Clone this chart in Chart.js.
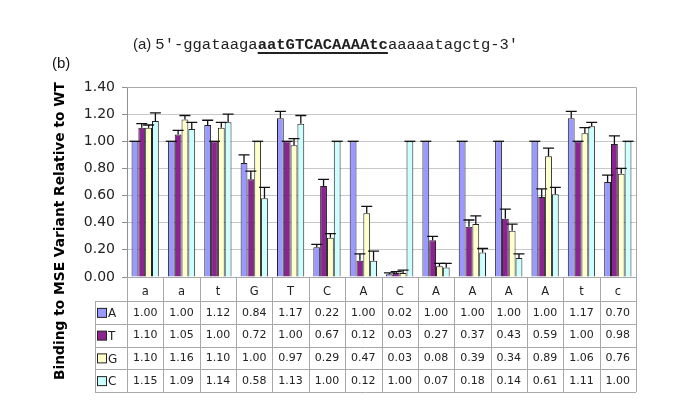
<!DOCTYPE html>
<html>
<head>
<meta charset="utf-8">
<script src="https://cdn.jsdelivr.net/npm/chart.js@4.4.1/dist/chart.umd.min.js"></script>
<style>
  body { margin: 0; background: #fff; }
  #wrap { position: relative; width: 685px; height: 403px; }
  #seq { position: absolute; left: 133px; top: 35px; white-space: nowrap; color: #222; }
  #seq .lbl { font-family: "Liberation Sans", Arial, sans-serif; font-size: 15px; }
  #seq .mono { font-family: "Liberation Mono", "DejaVu Sans Mono", monospace; font-size: 15.5px; }
  #seq u { text-decoration-thickness: 1.5px; text-underline-offset: 3px; }
</style>
</head>
<body>
<div id="wrap">
  <canvas id="chart" width="685" height="403"></canvas>
  <div id="seq"><span class="lbl">(a)</span> <span class="mono">5′-ggataaga<b><u>aatGTCACAAAAtc</u></b>aaaaatagctg-3′</span></div>
</div>
<script>
// positions along the sequence
const categories = ['a', 'a', 't', 'G', 'T', 'C', 'A', 'C', 'A', 'A', 'A', 'A', 't', 'c'];
const bases = ['A', 'T', 'G', 'C'];

// binding relative to WT, per substituted base
const valuesA = [1.00, 1.00, 1.12, 0.84, 1.17, 0.22, 1.00, 0.02, 1.00, 1.00, 1.00, 1.00, 1.17, 0.70];
const valuesT = [1.10, 1.05, 1.00, 0.72, 1.00, 0.67, 0.12, 0.03, 0.27, 0.37, 0.43, 0.59, 1.00, 0.98];
const valuesG = [1.10, 1.16, 1.10, 1.00, 0.97, 0.29, 0.47, 0.03, 0.08, 0.39, 0.34, 0.89, 1.06, 0.76];
const valuesC = [1.15, 1.09, 1.14, 0.58, 1.13, 1.00, 0.12, 1.00, 0.07, 0.18, 0.14, 0.61, 1.11, 1.00];

// upper error bars
const errA = [0, 0, 0.035, 0.06, 0.05, 0.02, 0, 0.01, 0, 0, 0, 0, 0.05, 0.05];
const errT = [0.03, 0.03, 0, 0.06, 0, 0.05, 0.05, 0.01, 0.03, 0.05, 0.07, 0.06, 0, 0.06];
const errG = [0.02, 0.03, 0.04, 0, 0.05, 0.03, 0.05, 0.02, 0.02, 0.06, 0.05, 0.06, 0.04, 0.04];
const errC = [0.06, 0.05, 0.06, 0.08, 0.06, 0, 0.07, 0, 0.03, 0.03, 0.03, 0.05, 0.03, 0];

const yTicks = [0, 0.2, 0.4, 0.6, 0.8, 1.0, 1.2, 1.4];

const colors = ['#9999FF', '#8B2390', '#FFFFCC', '#CCFFFF'];
const allValues = [valuesA, valuesT, valuesG, valuesC];
const allErrors = [errA, errT, errG, errC];

const FONT = '"DejaVu Sans", Verdana, sans-serif';
const LINE = '#A8A8A8';

// table geometry under the plot
const headerH = 24;
const rowH = 22.75;
const legendLeft = 95;

const errorBars = {
  id: 'errorBars',
  afterDatasetsDraw(chart) {
    const ctx = chart.ctx;
    const y = chart.scales.y;
    ctx.save();
    ctx.strokeStyle = '#111';
    ctx.lineWidth = 1.3;
    allErrors.forEach((errs, d) => {
      const meta = chart.getDatasetMeta(d);
      meta.data.forEach((bar, i) => {
        const top = y.getPixelForValue(allValues[d][i] + errs[i]);
        ctx.beginPath();
        ctx.moveTo(bar.x, bar.y);
        ctx.lineTo(bar.x, top);
        ctx.moveTo(bar.x - 5.5, top);
        ctx.lineTo(bar.x + 5.5, top);
        ctx.stroke();
      });
    });
    ctx.restore();
  }
};

const frame = {
  id: 'frame',
  beforeDatasetsDraw(chart) {
    const a = chart.chartArea;
    const ctx = chart.ctx;
    ctx.save();
    ctx.strokeStyle = LINE;
    ctx.lineWidth = 1;
    ctx.beginPath();
    ctx.moveTo(a.left, a.top + 0.5);
    ctx.lineTo(a.right + 0.5, a.top + 0.5);
    ctx.lineTo(a.right + 0.5, a.bottom);
    ctx.stroke();
    ctx.restore();
  }
};

const dataTable = {
  id: 'dataTable',
  afterDraw(chart) {
    const ctx = chart.ctx;
    const x = chart.scales.x;
    const a = chart.chartArea;
    const half = (x.getPixelForValue(1) - x.getPixelForValue(0)) / 2;
    const top = a.bottom;
    const rowsTop = top + headerH;
    const bottom = rowsTop + rowH * bases.length;
    ctx.save();
    ctx.strokeStyle = LINE;
    ctx.lineWidth = 1;
    // vertical lines
    ctx.beginPath();
    for (let i = 0; i <= categories.length; i++) {
      const px = Math.round(x.getPixelForValue(i) - half) + 0.5;
      ctx.moveTo(px, top);
      ctx.lineTo(px, bottom);
    }
    ctx.moveTo(legendLeft + 0.5, rowsTop);
    ctx.lineTo(legendLeft + 0.5, bottom);
    // horizontal lines
    ctx.moveTo(a.left, top + 0.5);
    ctx.lineTo(a.right, top + 0.5);
    for (let r = 0; r <= bases.length; r++) {
      const py = Math.round(rowsTop + r * rowH) + 0.5;
      ctx.moveTo(legendLeft, py);
      ctx.lineTo(a.right, py);
    }
    ctx.stroke();

    // legend keys and values
    ctx.font = '11px ' + FONT;
    ctx.textBaseline = 'middle';
    bases.forEach((b, r) => {
      const cy = rowsTop + r * rowH + rowH / 2 + 0.5;
      ctx.fillStyle = colors[r];
      ctx.fillRect(97, cy - 4.5, 9, 9);
      ctx.strokeStyle = '#222';
      ctx.strokeRect(97.5, cy - 4.5, 9, 9);
      ctx.fillStyle = '#222';
      ctx.textAlign = 'left';
      ctx.font = '12px ' + FONT;
      ctx.fillText(b, 108, cy + 1);
      ctx.font = '11px ' + FONT;
      ctx.textAlign = 'center';
      allValues[r].forEach((v, i) => {
        ctx.fillText(v.toFixed(2), x.getPixelForValue(i), cy);
      });
    });

    // y axis title
    ctx.save();
    ctx.fillStyle = '#000';
    ctx.font = 'bold 14px ' + FONT;
    const t = 'Binding to MSE Variant Relative to WT';
    const w = ctx.measureText(t).width;
    const size = 14 * 298 / w;
    ctx.font = 'bold ' + size.toFixed(2) + 'px ' + FONT;
    ctx.translate(60, 231);
    ctx.rotate(-Math.PI / 2);
    ctx.textAlign = 'center';
    ctx.textBaseline = 'middle';
    ctx.fillText(t, 0, 0);
    ctx.restore();

    ctx.fillStyle = '#111';
    ctx.font = '15px "Liberation Sans", Arial, sans-serif';
    ctx.textAlign = 'left';
    ctx.textBaseline = 'middle';
    ctx.fillText('(b)', 52, 64);
    ctx.restore();
  }
};

new Chart(document.getElementById('chart'), {
  type: 'bar',
  data: {
    labels: categories,
    datasets: bases.map((b, d) => ({
      label: b,
      data: allValues[d],
      backgroundColor: colors[d],
      borderColor: '#222',
      borderWidth: 1,
      borderSkipped: 'bottom',
      categoryPercentage: 0.75,
      barPercentage: 1.0
    }))
  },
  options: {
    responsive: false,
    animation: false,
    devicePixelRatio: 1,
    layout: { padding: { left: 0, right: 49, top: 87, bottom: 0 } },
    plugins: {
      legend: { display: false },
      tooltip: { enabled: false }
    },
    scales: {
      x: {
        grid: { display: false },
        border: { display: false },
        ticks: { color: '#222', font: { family: FONT, size: 11.5 }, padding: 0 },
        afterFit: s => { s.height = 126; }
      },
      y: {
        min: 0,
        max: 1.4,
        afterBuildTicks: s => { s.ticks = yTicks.map(v => ({ value: v })); },
        afterFit: s => { s.width = 127; },
        grid: { color: '#C8C8C8', tickColor: '#909090', tickLength: 5 },
        border: { display: true, color: '#909090' },
        ticks: {
          color: '#222',
          padding: 7,
          font: { family: FONT, size: 14 },
          callback: v => v.toFixed(2)
        }
      }
    }
  },
  plugins: [frame, errorBars, dataTable]
});
</script>
</body>
</html>
